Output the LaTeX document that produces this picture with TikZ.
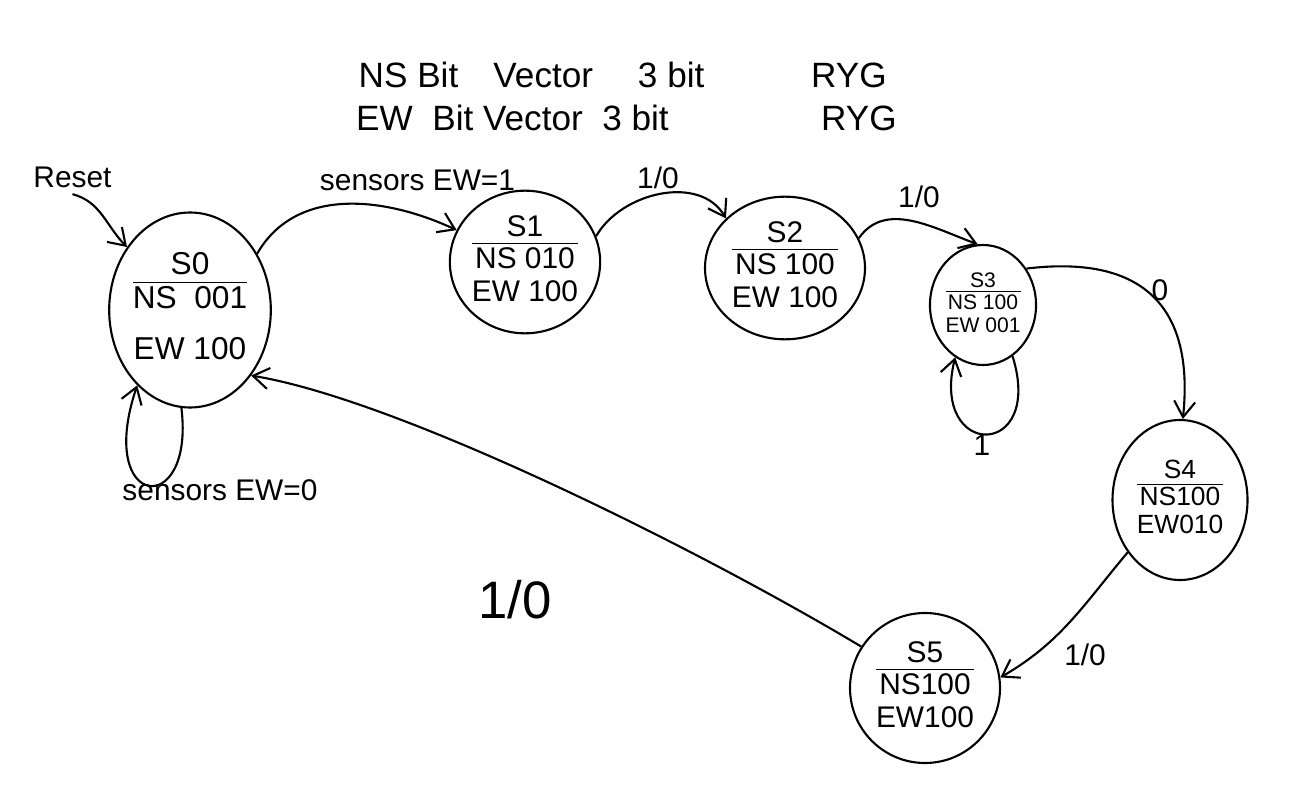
\documentclass[tikz,border=0pt]{standalone}
\usepackage{fontspec}
\setmainfont{Liberation Sans}
\usepackage{tikz}
\usetikzlibrary{shapes.geometric, arrows.meta}

\newcommand{\stlabel}[3]{\begin{tabular}{@{}c@{}}#1\\[-2pt]\hline #2\\[-1pt]#3\end{tabular}}

\tikzset{
    state/.style={draw, ellipse, line width=1.2pt, inner sep=0pt,
        font=\fontsize{17}{20}\selectfont},
    edge/.style={line width=1.2pt, -{Straight Barb[length=9pt, width=12pt]}},
    lbl/.style={font=\fontsize{17}{20}\selectfont},
    ttl/.style={anchor=west, font=\fontsize{20}{24}\selectfont}
}

\begin{document}
\begin{tikzpicture}
        \useasboundingbox (0,0) rectangle (25.98,-16.2);

        % title lines
        \node[ttl] (t1) at (7.05,-1.5) {NS Bit\quad Vector\quad\ 3 bit};
        \node[ttl] (t1c) at (16.1,-1.5) {RYG};
        \node[ttl] (t2) at (7.0,-2.36) {EW\ \ Bit Vector\ \ 3 bit};
        \node[ttl] (t2c) at (16.3,-2.36) {RYG};

        % states
        \node[state, minimum width=3.0cm, minimum height=3.9cm, font=\fontsize{18}{21}\selectfont] (s0) at (3.8,-6.2) {\begin{tabular}{@{}c@{}}S0\\[-2pt]\hline NS\ \ 001\\[8pt]EW 100\end{tabular}};
        \node[state, minimum width=3.0cm, minimum height=2.3cm] (s1) at (10.5,-5.24) {\stlabel{S1}{NS 010}{EW 100}};
        \node[state, minimum width=3.2cm, minimum height=2.4cm] (s2) at (15.7,-5.36) {\stlabel{S2}{NS 100}{EW 100}};
        \node[state, minimum width=1.95cm, minimum height=2.4cm, font=\fontsize{12}{14}\selectfont] (s3) at (19.66,-6.1) {\stlabel{S3}{NS 100}{EW 001}};
        \node[state, minimum width=2.7cm, minimum height=3.2cm, font=\fontsize{15}{17}\selectfont] (s4) at (23.6,-10.0) {\stlabel{S4}{NS100}{EW010}};
        \node[state, minimum width=3.0cm, minimum height=3.0cm] (s5) at (18.5,-13.76) {\stlabel{S5}{NS100}{EW100}};

        % reset
        \node[lbl] (reset) at (1.45,-3.55) {Reset};
        \draw[edge] (reset.south) to[out=-15,in=135] (s0.135);

        % transitions
        \draw[edge] (s0.40) to[out=60,in=155] (s1.155);
        \node[lbl] (l01) at (8.35,-3.6) {sensors EW=1};

        \draw[edge] (s1.20) to[out=60,in=120] (s2.140);
        \node[lbl] (l12) at (13.16,-3.56) {1/0};

        \draw[edge] (s2.22) to[out=55,in=160] (s3.95);
        \node[lbl] (l23) at (18.38,-3.94) {1/0};

        \draw[edge] (s3.40) .. controls (23.6,-5.0) and (23.8,-7.0) .. (s4.88);
        \node[lbl] (l34) at (23.2,-5.8) {0};

        \draw[edge] (s4.-135) to[out=-130,in=30] (s5.8);
        \node[lbl] (l45) at (21.7,-13.1) {1/0};

        \draw[edge] (s5.147) .. controls (14.0,-11.0) and (8.0,-8.0) .. (s0.-47);
        \node[lbl, font=\fontsize{30}{34}\selectfont] (l50) at (10.3,-12.0) {1/0};

        % self loops
        \draw[edge] (s0.-95) .. controls (3.9,-10.4) and (1.9,-10.2) .. (s0.-125);
        \node[lbl] (l00) at (4.4,-9.8) {sensors EW=0};

        \draw[edge] (s3.-60) .. controls (20.9,-9.2) and (18.6,-9.2) .. (s3.-118);
        \node[lbl] (l33) at (19.64,-8.9) {1};
    \end{tikzpicture}
\end{document}
